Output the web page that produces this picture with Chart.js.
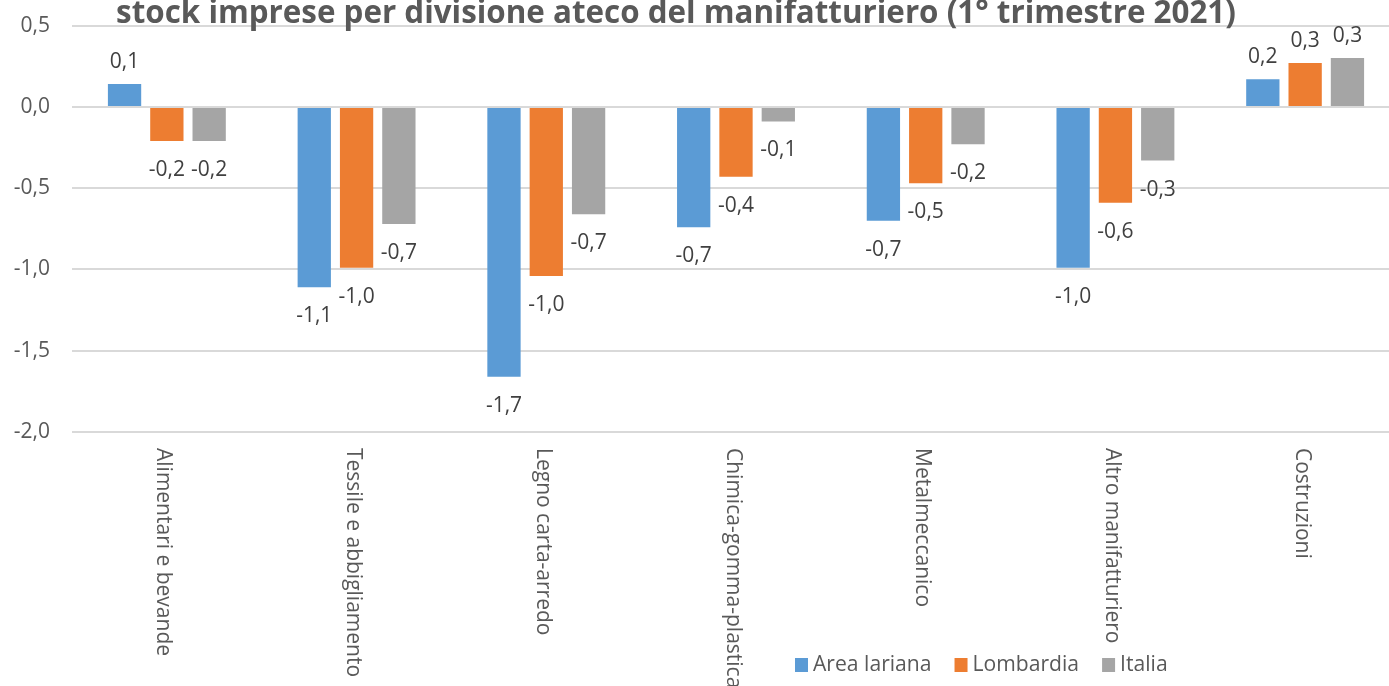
<!DOCTYPE html>
<html>
<head>
<meta charset="utf-8">
<script src="https://cdn.jsdelivr.net/npm/chart.js@4"></script>
<style>
    body { margin: 0; overflow: hidden; background: #ffffff; }
    #wrap { position: absolute; left: 0; top: -9px; width: 1400px; height: 695px; }
</style>
</head>
<body>
<div id="wrap"><canvas id="chart" width="1400" height="695"></canvas></div>
<script>
// Data
const categories = [
    'Alimentari e bevande', 'Tessile e abbigliamento', 'Legno carta-arredo',
    'Chimica-gomma-plastica', 'Metalmeccanico', 'Altro manifatturiero', 'Costruzioni'
];
const areaLariana = [0.14, -1.11, -1.66, -0.74, -0.70, -0.99, 0.17];
const lombardia = [-0.21, -0.99, -1.04, -0.43, -0.47, -0.59, 0.27];
const italia = [-0.21, -0.72, -0.66, -0.09, -0.23, -0.33, 0.30];
const seriesNames = ['Area lariana', 'Lombardia', 'Italia'];
const seriesColors = ['#5b9bd5', '#ed7d31', '#a5a5a5'];
const titleText = 'stock imprese per divisione ateco del manifatturiero (1° trimestre 2021)';

const textColor = '#595959';
const fmt = v => v.toFixed(1).replace('.', ',');
const offsetY = 9; // canvas is shifted up so the title gets cut like in the original

// draw text stretched horizontally by sx
function stretchedText(ctx, text, x, y, sx) {
    ctx.save();
    ctx.translate(x, y);
    ctx.scale(sx, 1);
    ctx.fillText(text, 0, 0);
    ctx.restore();
}

// Title, rotated category labels, value labels and legend
const extrasPlugin = {
    id: 'extras',
    afterDatasetsDraw(chart) {
        const ctx = chart.ctx;
        const xScale = chart.scales.x;
        const yScale = chart.scales.y;

        // value labels
        ctx.save();
        ctx.font = '21px "Open Sans"';
        ctx.fillStyle = '#404040';
        ctx.textAlign = 'center';
        ctx.textBaseline = 'middle';
        chart.data.datasets.forEach((ds, di) => {
            chart.getDatasetMeta(di).data.forEach((bar, i) => {
                const v = ds.data[i];
                const y = v >= 0 ? bar.y - 22 : bar.y + 29;
                ctx.fillText(fmt(v), bar.x, y);
            });
        });
        ctx.restore();

        // category labels, rotated clockwise
        ctx.save();
        ctx.font = '21px "Open Sans"';
        ctx.fillStyle = textColor;
        ctx.textAlign = 'left';
        ctx.textBaseline = 'alphabetic';
        categories.forEach((c, i) => {
            const x = xScale.getPixelForValue(i) - 9.5;
            ctx.save();
            ctx.translate(x, yScale.bottom + 16);
            ctx.rotate(Math.PI / 2);
            ctx.fillText(c, 0, 0);
            ctx.restore();
        });
        ctx.restore();

        // title (partly cut off at the top)
        ctx.save();
        ctx.font = 'bold 33px "Open Sans"';
        ctx.fillStyle = textColor;
        ctx.textAlign = 'center';
        ctx.textBaseline = 'alphabetic';
        stretchedText(ctx, titleText, 676, 23 + offsetY, 0.95);
        ctx.restore();

        // legend
        ctx.save();
        ctx.font = '22px "Open Sans"';
        ctx.textBaseline = 'middle';
        ctx.textAlign = 'left';
        const sx = 0.96;
        let lx = 795;
        const ly = 665 + offsetY;
        seriesNames.forEach((name, i) => {
            ctx.fillStyle = seriesColors[i];
            ctx.fillRect(lx, ly - 7, 13, 14);
            ctx.fillStyle = textColor;
            stretchedText(ctx, name, lx + 18, ly, sx);
            lx += 18 + ctx.measureText(name).width * sx + 23;
        });
        ctx.restore();
    }
};

const ctx = document.getElementById('chart').getContext('2d');
new Chart(ctx, {
    type: 'bar',
    data: {
        labels: categories,
        datasets: [
            { label: seriesNames[0], data: areaLariana, backgroundColor: seriesColors[0] },
            { label: seriesNames[1], data: lombardia, backgroundColor: seriesColors[1] },
            { label: seriesNames[2], data: italia, backgroundColor: seriesColors[2] }
        ]
    },
    options: {
        responsive: false,
        animation: false,
        layout: { padding: { top: 15, right: 0, bottom: 0, left: 0 } },
        datasets: {
            bar: { categoryPercentage: 0.669, barPercentage: 0.787, borderWidth: 0 }
        },
        scales: {
            x: {
                ticks: { display: false },
                grid: { display: false },
                border: { display: false },
                afterFit: s => { s.height = 254; }
            },
            y: {
                min: -2,
                max: 0.5,
                ticks: {
                    stepSize: 0.5,
                    padding: 22,
                    color: textColor,
                    font: { family: 'Open Sans', size: 21 },
                    callback: v => fmt(v)
                },
                grid: { color: '#d9d9d9', lineWidth: 2, drawTicks: false },
                border: { display: false },
                afterFit: s => { s.width = 72; }
            }
        },
        plugins: {
            legend: { display: false },
            title: { display: false },
            tooltip: { enabled: false }
        }
    },
    plugins: [extrasPlugin]
});
</script>
</body>
</html>
